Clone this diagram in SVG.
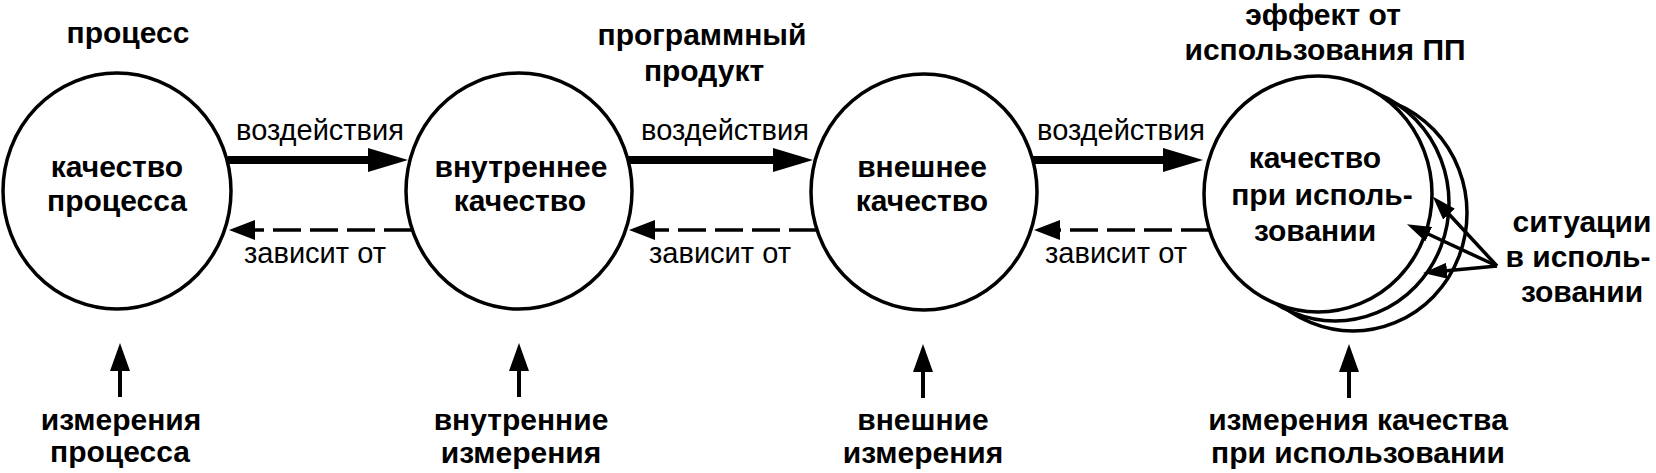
<svg xmlns="http://www.w3.org/2000/svg" width="1656" height="473" viewBox="0 0 1656 473">
<style>
.node{fill:#fff;stroke:#000;stroke-width:3.5}
.arc{fill:none;stroke:#000;stroke-width:3.5}
.t{font-family:"Liberation Sans",Arial,sans-serif;font-weight:bold;font-size:30px;text-anchor:middle;fill:#000}
.e{font-family:"Liberation Sans",Arial,sans-serif;font-size:29px;text-anchor:middle;fill:#000}
.thick{stroke:#000;stroke-width:8;fill:none;marker-end:url(#bigHead)}
.dash{stroke:#000;stroke-width:3.5;fill:none;stroke-dasharray:28 9;marker-end:url(#smallHead)}
.up{stroke:#000;stroke-width:4;fill:none;marker-end:url(#upHead)}
.sit{stroke:#000;stroke-width:3.5;fill:none;marker-end:url(#sitHead)}
</style>
<defs>
<marker id="bigHead" markerUnits="userSpaceOnUse" markerWidth="40" markerHeight="24" refX="4" refY="12" orient="auto"><path d="M0,0 L40,12 L0,24 z" fill="#000"/></marker>
<marker id="smallHead" markerUnits="userSpaceOnUse" markerWidth="26" markerHeight="20" refX="4" refY="10" orient="auto"><path d="M0,0 L26,10 L0,20 z" fill="#000"/></marker>
<marker id="upHead" markerUnits="userSpaceOnUse" markerWidth="28" markerHeight="20" refX="4" refY="10" orient="auto"><path d="M0,0 L28,10 L0,20 z" fill="#000"/></marker>
<marker id="sitHead" markerUnits="userSpaceOnUse" markerWidth="24" markerHeight="16" refX="3" refY="8" orient="auto"><path d="M0,0 L24,8 L0,16 z" fill="#000"/></marker>
</defs>

<g id="lbl-process">
<text class="t" x="128" y="43">процесс</text>
</g>
<g id="lbl-product">
<text class="t" x="702" y="45">программный</text>
<text class="t" x="704" y="81">продукт</text>
</g>
<g id="lbl-effect">
<text class="t" x="1323" y="25">эффект от</text>
<text class="t" x="1325" y="60">использования ПП</text>
</g>

<g id="node-process-quality">
<ellipse class="node" cx="117" cy="191" rx="114" ry="118"/>
<text class="t" x="117" y="177">качество</text>
<text class="t" x="117" y="211">процесса</text>
</g>
<g id="node-internal-quality">
<ellipse class="node" cx="519" cy="191" rx="113" ry="118"/>
<text class="t" x="521" y="177">внутреннее</text>
<text class="t" x="520" y="211">качество</text>
</g>
<g id="node-external-quality">
<ellipse class="node" cx="924" cy="192" rx="113" ry="118"/>
<text class="t" x="922" y="177">внешнее</text>
<text class="t" x="922" y="211">качество</text>
</g>
<g id="node-quality-in-use">
<ellipse class="arc" cx="1353" cy="213" rx="114" ry="118"/>
<ellipse class="arc" cx="1335" cy="203" rx="114" ry="118"/>
<ellipse class="node" cx="1318" cy="194" rx="114" ry="118"/>
<text class="t" x="1315" y="168">качество</text>
<text class="t" x="1322" y="205">при исполь-</text>
<text class="t" x="1315" y="241">зовании</text>
</g>

<g id="connectors">
<line class="thick" x1="228" y1="160" x2="372" y2="160"/>
<line class="thick" x1="628" y1="160" x2="777" y2="160"/>
<line class="thick" x1="1033" y1="160" x2="1167" y2="160"/>
<line class="dash" x1="412" y1="230" x2="251" y2="230"/>
<line class="dash" x1="817" y1="230" x2="651" y2="230"/>
<line class="dash" x1="1209" y1="230" x2="1056" y2="230"/>
<line class="up" x1="120" y1="397" x2="120" y2="367"/>
<line class="up" x1="519" y1="397" x2="519" y2="367"/>
<line class="up" x1="923" y1="398" x2="923" y2="368"/>
<line class="up" x1="1349" y1="398" x2="1349" y2="368"/>
<line class="sit" x1="1497" y1="266" x2="1447" y2="212"/>
<line class="sit" x1="1497" y1="266" x2="1426" y2="233"/>
<line class="sit" x1="1497" y1="266" x2="1444" y2="271"/>
</g>

<g id="edge-labels">
<text class="e" x="320" y="140">воздействия</text>
<text class="e" x="725" y="140">воздействия</text>
<text class="e" x="1121" y="140">воздействия</text>
<text class="e" x="315" y="263">зависит от</text>
<text class="e" x="720" y="263">зависит от</text>
<text class="e" x="1116" y="263">зависит от</text>
</g>

<g id="lbl-measures">
<text class="t" x="121" y="430">измерения</text>
<text class="t" x="120" y="462">процесса</text>
<text class="t" x="521" y="430">внутренние</text>
<text class="t" x="521" y="463">измерения</text>
<text class="t" x="923" y="430">внешние</text>
<text class="t" x="923" y="463">измерения</text>
<text class="t" x="1358" y="430">измерения качества</text>
<text class="t" x="1358" y="463">при использовании</text>
</g>
<g id="lbl-situations">
<text class="t" x="1582" y="232">ситуации</text>
<text class="t" x="1578" y="267">в исполь-</text>
<text class="t" x="1582" y="302">зовании</text>
</g>
</svg>
